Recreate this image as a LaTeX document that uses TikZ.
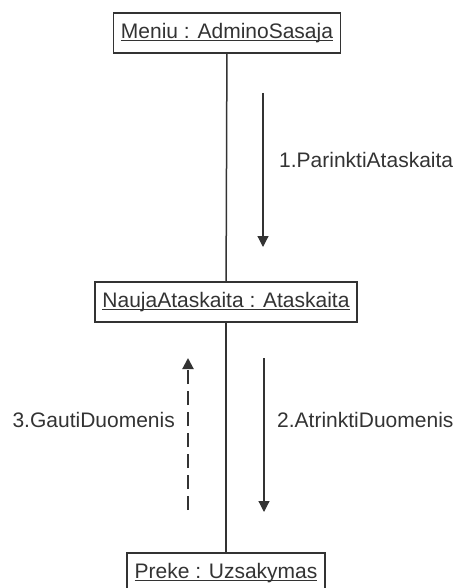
\documentclass[tikz,border=0pt]{standalone}
\usepackage{fontspec}
\setmainfont{Liberation Sans}
\usetikzlibrary{arrows.meta}
\definecolor{umlgray}{HTML}{333333}
\newcommand\objname[1]{\rlap{\underline{\smash{#1}}}\phantom{#1}}

\tikzset{
    obj/.style={draw=umlgray, line width=1.6pt, fill=white, inner xsep=7.5pt,
        minimum height=40pt, text=umlgray},
    msg/.style={umlgray, line width=1.2pt, -{Triangle[width=11pt,length=11pt]}},
    ret/.style={msg, line width=2pt, dash pattern=on 14pt off 7pt},
    lbl/.style={inner sep=0pt, text=umlgray}
}

\begin{document}
\begin{tikzpicture}[x=1pt, y=-1pt, font=\fontsize{21}{25}\selectfont]
    \useasboundingbox (0,0) rectangle (455,588);
    \clip (0,0) rectangle (455,588); % the last box is cut by the edge

    % objects
    \node[obj] (meniu) at (227,33) {\objname{Meniu : AdminoSasaja}};
    \node[obj] (nauja) at (226,302) {\objname{NaujaAtaskaita : Ataskaita}};
    \node[obj] (preke) at (226,573) {\objname{Preke : Uzsakymas}};

    % links
    \draw[umlgray, line width=1.5pt] (meniu) -- (nauja);
    \draw[umlgray, line width=1.5pt] (nauja) -- (preke);

    % messages
    \coordinate (m1a) at (263,93);
    \coordinate (m1b) at (263,247);
    \coordinate (m2a) at (264,358);
    \coordinate (m2b) at (264,512);
    \coordinate (m3a) at (188,510);
    \coordinate (m3b) at (188,358);
    \draw[msg] (m1a) -- (m1b);
    \draw[msg] (m2a) -- (m2b);
    \draw[ret] (m3a) -- (m3b);

    \node[lbl, anchor=west] (l1) at (279,160) {1.ParinktiAtaskaita};
    \node[lbl, anchor=west] (l2) at (277,420) {2.AtrinktiDuomenis};
    \node[lbl, anchor=east] (l3) at (175,420) {3.GautiDuomenis};
  \end{tikzpicture}
\end{document}
